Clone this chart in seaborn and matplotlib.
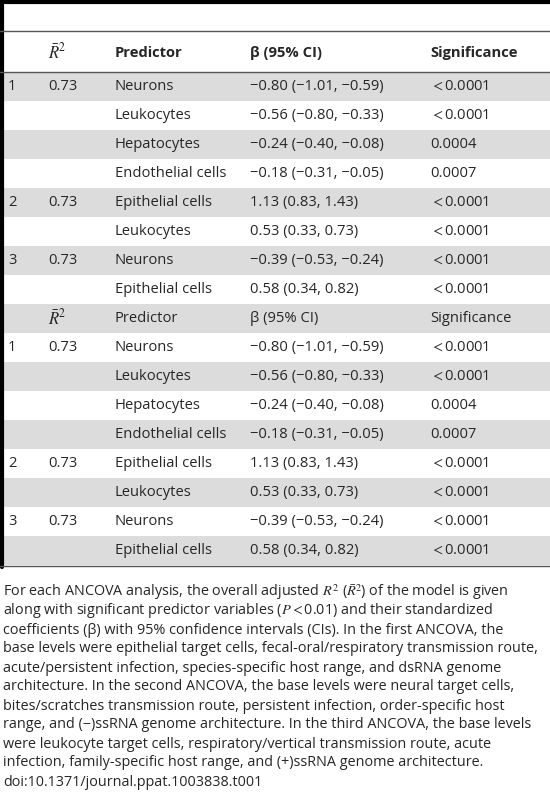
import matplotlib
matplotlib.use("Agg")
import matplotlib.pyplot as plt
import seaborn as sns

sns.set_theme(style="white")
plt.rcParams['font.family'] = ['Open Sans', 'DejaVu Sans']
plt.rcParams['mathtext.fontset'] = 'stix'

models = ["1", "", "", "", "2", "", "3", ""]
r2 = ["0.73", "", "", "", "0.73", "", "0.73", ""]
predictors = ["Neurons", "Leukocytes", "Hepatocytes", "Endothelial cells",
              "Epithelial cells", "Leukocytes", "Neurons", "Epithelial cells"]
betas = ["\u22120.80 (\u22121.01, \u22120.59)", "\u22120.56 (\u22120.80, \u22120.33)",
         "\u22120.24 (\u22120.40, \u22120.08)", "\u22120.18 (\u22120.31, \u22120.05)",
         "1.13 (0.83, 1.43)", "0.53 (0.33, 0.73)",
         "\u22120.39 (\u22120.53, \u22120.24)", "0.58 (0.34, 0.82)"]
signif = ["$<$0.0001", "$<$0.0001", "0.0004", "0.0007",
          "$<$0.0001", "$<$0.0001", "$<$0.0001", "$<$0.0001"]
headers = [r"$\bar{R}^2$", "Predictor", "\u03b2 (95% CI)", "Significance"]

caption = [
    r"For each ANCOVA analysis, the overall adjusted $R^2$ ($\bar{R}^2$) of the model is given",
    r"along with significant predictor variables ($P$$<$0.01) and their standardized",
    "coefficients (\u03b2) with 95% confidence intervals (CIs). In the first ANCOVA, the",
    "base levels were epithelial target cells, fecal-oral/respiratory transmission route,",
    "acute/persistent infection, species-specific host range, and dsRNA genome",
    "architecture. In the second ANCOVA, the base levels were neural target cells,",
    "bites/scratches transmission route, persistent infection, order-specific host",
    "range, and (\u2212)ssRNA genome architecture. In the third ANCOVA, the base levels",
    "were leukocyte target cells, respiratory/vertical transmission route, acute",
    "infection, family-specific host range, and (+)ssRNA genome architecture.",
    "doi:10.1371/journal.ppat.1003838.t001",
]

fig = plt.figure(figsize=(5.5, 8), dpi=100)
ax = fig.add_axes([0, 0, 1, 1])
ax.set_xlim(0, 550)
ax.set_ylim(800, 0)
ax.axis("off")

cols = [8, 48, 115, 250, 430]
fs = 10.6
rh = 29
gray = "#dcdcdc"

# frame lines
ax.plot([0, 550], [1.5, 1.5], color="black", lw=3)
ax.plot([1.5, 1.5], [0, 567], color="black", lw=3)
ax.plot([0, 550], [31, 31], color="#555555", lw=1)
ax.plot([0, 550], [72, 72], color="#555555", lw=1)
ax.plot([0, 550], [566, 566], color="#555555", lw=1)

# first header
ax.text(cols[1], 53, headers[0], fontsize=12, va="center")
for c, h in zip(cols[2:], headers[1:]):
    ax.text(c, 53, h, fontsize=fs, va="center", fontweight="bold")

rows = []
for i in range(len(predictors)):
    rows.append((models[i], r2[i], predictors[i], betas[i], signif[i]))
rows.append(None)
for i in range(len(predictors)):
    rows.append((models[i], r2[i], predictors[i], betas[i], signif[i]))

y0 = 72
for k, row in enumerate(rows):
    top = y0 + k * rh
    if k % 2 == 0:
        ax.axhspan(top, top + rh, xmin=3 / 550, xmax=1, color=gray, lw=0)
    yc = top + rh / 2
    if row is None:
        ax.text(cols[1], yc, headers[0], fontsize=12, va="center")
        for c, h in zip(cols[2:], headers[1:]):
            ax.text(c, yc, h, fontsize=fs, va="center")
        continue
    for c, v in zip(cols, row):
        ax.text(c, yc, v, fontsize=fs, va="center")

for j, line in enumerate(caption):
    ax.text(3, 592 + j * 19, line, fontsize=10.4, va="center")

fig.savefig("out.png", dpi=100)
